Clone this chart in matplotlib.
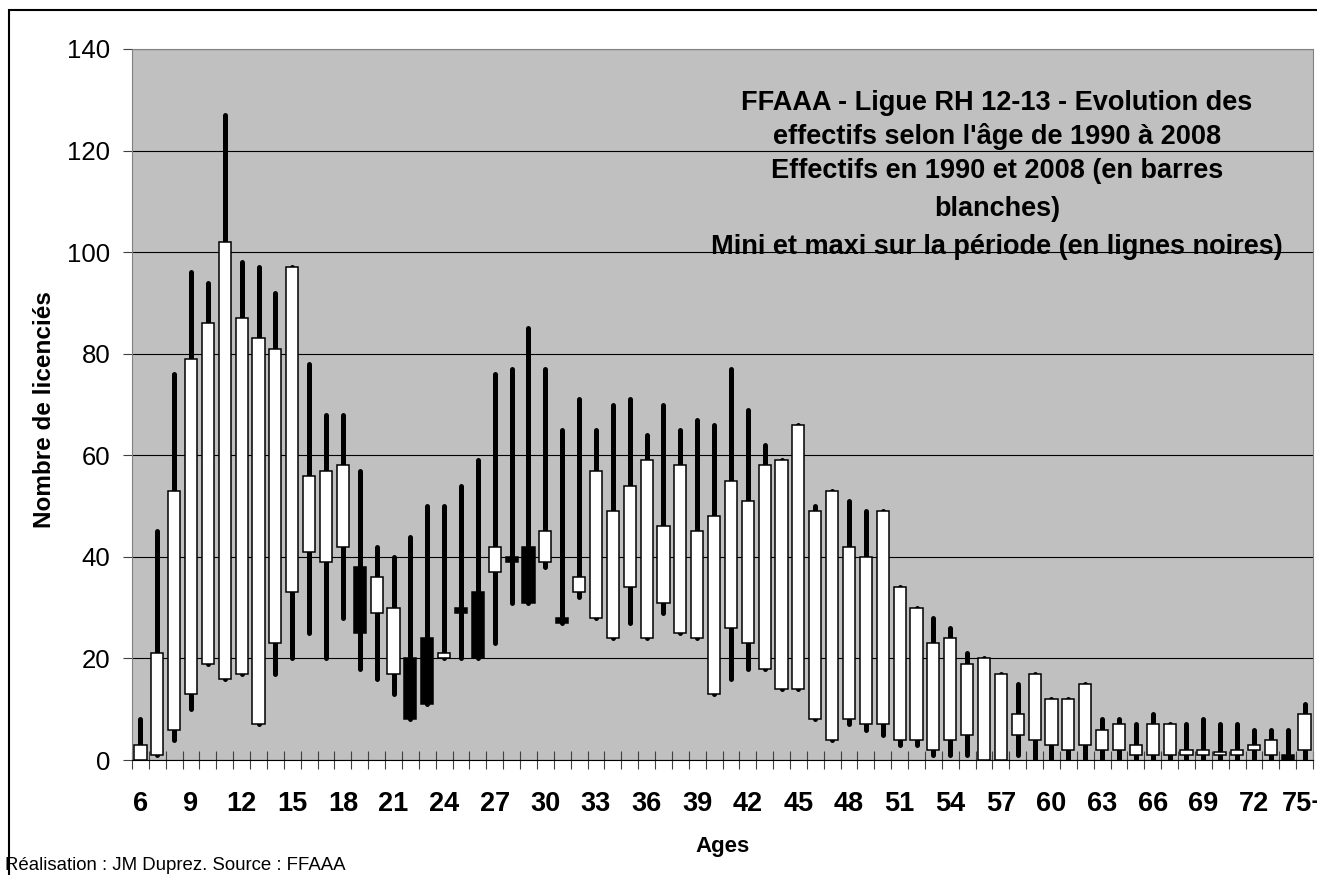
import matplotlib.pyplot as plt
import numpy as np

plt.rcParams['font.family'] = ['Liberation Sans', 'DejaVu Sans']

# Donnees (ages 6 a 75+)
ages = list(range(6, 76))
age_labels = [str(a) for a in ages]
age_labels[-1] = '75+'

effectif_1990 = [0, 1, 6, 13, 19, 16, 17, 7, 23, 33,
                 41, 39, 42, 38, 29, 17, 20, 24, 20, 30,
                 33, 37, 40, 42, 39, 28, 33, 28, 24, 34,
                 24, 31, 25, 24, 13, 26, 23, 18, 14, 14,
                 8, 4, 8, 7, 7, 4, 4, 2, 4, 5,
                 0, 0, 5, 4, 3, 2, 3, 2, 2, 1,
                 1, 1, 1, 1, 1, 1, 2, 1, 1, 2]
effectif_2008 = [3, 21, 53, 79, 86, 102, 87, 83, 81, 97,
                 56, 57, 58, 25, 36, 30, 8, 11, 21, 29,
                 20, 42, 39, 31, 45, 27, 36, 57, 49, 54,
                 59, 46, 58, 45, 48, 55, 51, 58, 59, 66,
                 49, 53, 42, 40, 49, 34, 30, 23, 24, 19,
                 20, 17, 9, 17, 12, 12, 15, 6, 7, 3,
                 7, 7, 2, 2, 1.5, 2, 3, 4, 0, 9]
mini = [0, 1, 4, 10, 19, 16, 17, 7, 17, 20,
        25, 20, 28, 18, 16, 13, 8, 11, 20, 20,
        20, 23, 31, 31, 38, 27, 32, 28, 24, 27,
        24, 29, 25, 24, 13, 16, 18, 18, 14, 14,
        8, 4, 7, 6, 5, 3, 3, 1, 1, 1,
        0, 0, 1, 0, 0, 0, 0, 0, 0, 0,
        0, 0, 0, 0, 0, 0, 0, 0, 0, 0]
maxi = [8, 45, 76, 96, 94, 127, 98, 97, 92, 97,
        78, 68, 68, 57, 42, 40, 44, 50, 50, 54,
        59, 76, 77, 85, 77, 65, 71, 65, 70, 71,
        64, 70, 65, 67, 66, 77, 69, 62, 59, 66,
        50, 53, 51, 49, 49, 34, 30, 28, 26, 21,
        20, 17, 15, 17, 12, 12, 15, 8, 8, 7,
        9, 7, 7, 8, 7, 7, 6, 6, 6, 11]

W, H = 1317, 875
fig = plt.figure(figsize=(W / 100, H / 100), dpi=100)
ax = fig.add_axes([132 / W, 1 - 760 / H, (1313 - 132) / W, (760 - 49) / H])
ax.set_facecolor('#c0c0c0')

x = np.arange(len(ages))
o = np.array(effectif_1990, dtype=float)
c = np.array(effectif_2008, dtype=float)

# lignes mini / maxi
ax.vlines(x, mini, maxi, color='black', lw=3.6, capstyle='round', zorder=2)

# corps : blanc si hausse, noir si baisse
bas = np.minimum(o, c)
haut = np.abs(c - o)
couleurs = ['white' if cc >= oo else 'black' for oo, cc in zip(o, c)]
ax.bar(x, haut, bottom=bas, width=0.72, color=couleurs, edgecolor='black',
       linewidth=1.1, zorder=3)

ax.set_xlim(-0.5, len(ages) - 0.5)
ax.set_ylim(0, 140)
ax.set_yticks(range(0, 141, 20))
ax.yaxis.grid(True, color='black', lw=0.8)
ax.set_axisbelow(True)
ax.tick_params(axis='y', direction='out', length=6.5, width=0.8, pad=9,
               labelsize=18.5, color='#404040')

ax.set_xticks(x[::3])
ax.set_xticklabels(age_labels[::3], fontsize=19.5, fontweight='bold')
ax.set_xticks(np.arange(-0.5, len(ages), 1), minor=True)
ax.tick_params(axis='x', which='major', length=0, pad=22)
ax.tick_params(axis='x', which='minor', direction='inout', length=13, width=0.8,
               color='#404040')

for s in ['top', 'right', 'left']:
    ax.spines[s].set_color('#808080')
ax.spines['bottom'].set_color('black')

fig.text(45 / W, 1 - 410 / H, 'Nombre de licenciés', rotation=90,
         ha='center', va='center', fontsize=17.5, fontweight='bold')
fig.text(723 / W, 1 - 852 / H, 'Ages', ha='center', va='baseline',
         fontsize=16, fontweight='bold')

titre = ["FFAAA - Ligue RH 12-13 - Evolution des",
         "effectifs selon l'âge de 1990 à 2008",
         "Effectifs en 1990 et 2008 (en barres",
         "blanches)",
         "Mini et maxi sur la période (en lignes noires)"]
bases = [110, 144, 178, 216, 254]
for ligne, yb in zip(titre, bases):
    fig.text(997 / W, 1 - yb / H, ligne, ha='center', va='baseline',
             fontsize=19.5, fontweight='bold')

fig.text(5 / W, 1 - 870 / H, 'Réalisation : JM Duprez. Source : FFAAA',
         ha='left', va='baseline', fontsize=13.4)

# cadre du graphique
cadre = plt.Rectangle((8.5 / W, -0.1), 1.2, 1 - 10.5 / H + 0.1,
                      transform=fig.transFigure, fill=False, lw=1.5,
                      edgecolor='black')
fig.patches.append(cadre)

fig.savefig('out.png', dpi=100)
